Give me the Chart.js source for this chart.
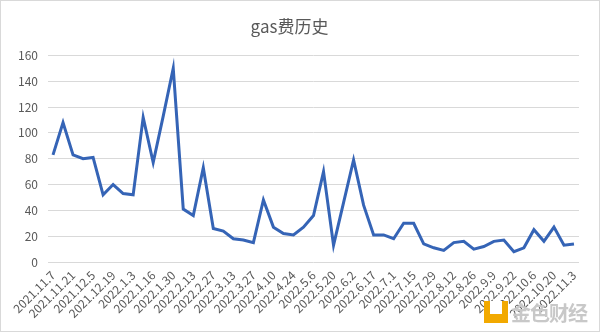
<!DOCTYPE html>
<html>
<head>
<meta charset="utf-8">
<script src="https://cdn.jsdelivr.net/npm/chart.js@4/dist/chart.umd.min.js"></script>
<style>
  html, body { margin: 0; padding: 0; background: #fff; }
  #wrap { position: relative; width: 600px; height: 332px; box-sizing: border-box; border: 1px solid #d9d9d9; overflow: hidden; }
  canvas { position: absolute; left: -1px; top: -1px; }
  #wm { position: absolute; left: 483px; top: 299px; height: 24px; display: flex; align-items: center; }
  #wm .icon { width: 24px; height: 22px; background: #f2a900; position: relative; margin-right: 3px; }
  #wm .icon:after { content: ""; position: absolute; left: 6px; top: 0; width: 12px; height: 13px; background: #fff; }
  #wm .txt { font-family: "Noto Sans CJK SC", sans-serif; font-size: 20px; font-weight: bold; color: #c8c8c8; letter-spacing: -1px; }
</style>
</head>
<body>
<div id="wrap">
  <canvas id="c" width="600" height="332"></canvas>
  <div id="wm"><div class="icon"></div><div class="txt">金色财经</div></div>
</div>
<script>
const categories = [
  "2021.11.7","2021.11.14","2021.11.21","2021.11.28","2021.12.5","2021.12.12","2021.12.19","2021.12.26",
  "2022.1.3","2022.1.9","2022.1.16","2022.1.23","2022.1.30","2022.2.6","2022.2.13","2022.2.20",
  "2022.2.27","2022.3.6","2022.3.13","2022.3.20","2022.3.27","2022.4.3","2022.4.10","2022.4.17",
  "2022.4.24","2022.4.30","2022.5.6","2022.5.13","2022.5.20","2022.5.27","2022.6.2","2022.6.9",
  "2022.6.17","2022.6.24","2022.7.1","2022.7.8","2022.7.15","2022.7.22","2022.7.29","2022.8.5",
  "2022.8.12","2022.8.19","2022.8.26","2022.9.2","2022.9.9","2022.9.16","2022.9.22","2022.9.29",
  "2022.10.6","2022.10.13","2022.10.20","2022.10.27","2022.11.3"
];
const gasFee = [
  83,108,83,80,81,52,60,53,
  52,112,77,113,150,41,36,73,
  26,24,18,17,15,48,27,22,
  21,27,36,70,13,46,79,44,
  21,21,18,30,30,14,11,9,
  15,16,10,12,16,17,8,11,
  25,16,27,13,14
];
const yTicks = { min: 0, max: 160, step: 20 };
const titleText = "gas费历史";

const fontFamily = '"Noto Sans CJK SC", "Noto Sans", sans-serif';
const textColor = '#595959';

new Chart(document.getElementById('c'), {
  type: 'line',
  data: {
    labels: categories,
    datasets: [{
      label: 'gas费',
      data: gasFee,
      borderColor: '#3564b6',
      borderWidth: 3,
      pointRadius: 0,
      pointHoverRadius: 0,
      tension: 0,
      fill: false
    }]
  },
  options: {
    responsive: false,
    animation: false,
    devicePixelRatio: 1,
    layout: { padding: { left: 0, right: 21, top: 0, bottom: 0 } },
    plugins: {
      legend: { display: false },
      tooltip: { enabled: false },
      title: {
        display: true,
        text: titleText,
        color: textColor,
        font: { family: fontFamily, size: 17, weight: 'normal' },
        padding: { top: 16, bottom: 19 }
      }
    },
    scales: {
      x: {
        type: 'category',
        offset: true,
        grid: { display: false, drawTicks: false },
        border: { display: false },
        ticks: {
          autoSkip: false,
          maxRotation: 45,
          minRotation: 45,
          padding: 6,
          color: textColor,
          font: { family: fontFamily, size: 12 },
          callback: function(v, i) { return i % 2 === 0 ? this.getLabelForValue(v) : ''; }
        },
        afterFit: (s) => { s.height = 70; }
      },
      y: {
        min: yTicks.min,
        max: yTicks.max,
        grid: { color: '#d9d9d9', lineWidth: 1, drawTicks: false },
        border: { display: false },
        ticks: {
          stepSize: yTicks.step,
          padding: 10,
          color: textColor,
          font: { family: fontFamily, size: 12 }
        },
        afterFit: (s) => { s.width = 48; }
      }
    }
  }
});
</script>
</body>
</html>
